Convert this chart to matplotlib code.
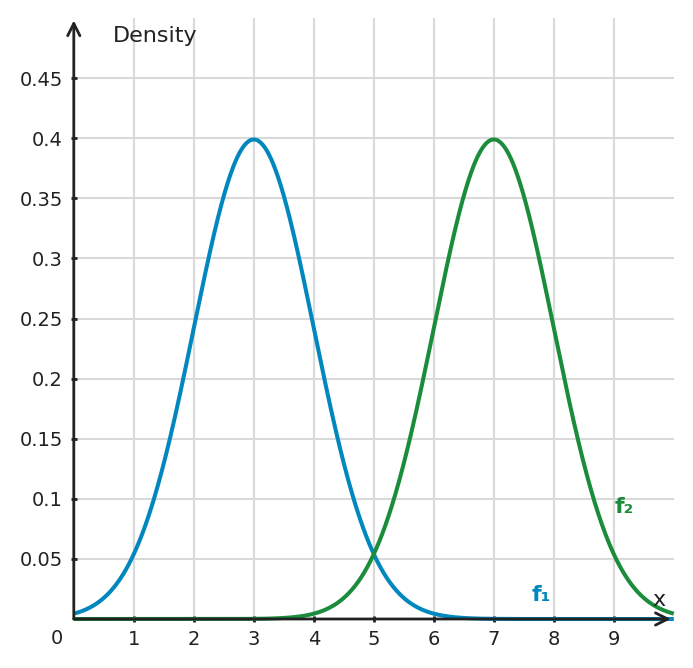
import matplotlib.pyplot as plt
import numpy as np

# two normal densities: parameters
means = [3, 7]
sigmas = [1, 1]
names = ["f\u2081", "f\u2082"]
colors = ["#0087be", "#1b8c3c"]
label_pos = [(7.8, 0.02), (9.18, 0.093)]

x_ticks = [1, 2, 3, 4, 5, 6, 7, 8, 9]
y_ticks = [0.05, 0.1, 0.15, 0.2, 0.25, 0.3, 0.35, 0.4, 0.45]
y_labels = ["0.05", "0.1", "0.15", "0.2", "0.25", "0.3", "0.35", "0.4", "0.45"]

fig = plt.figure(figsize=(6.93, 6.68), dpi=100)
ax = fig.add_axes([73.8 / 693, 49 / 668, 600 / 693, 601 / 668])

xs = np.linspace(0, 10, 600)
for mu, sd, col, name, pos in zip(means, sigmas, colors, names, label_pos):
    ys = np.exp(-0.5 * ((xs - mu) / sd) ** 2) / (sd * np.sqrt(2 * np.pi))
    ax.plot(xs, ys, color=col, lw=2.9, solid_capstyle="butt", zorder=3, clip_on=False)
    ax.text(pos[0], pos[1], name, color=col, fontsize=16, fontweight="bold",
            ha="center", va="center")

ax.set_xlim(0, 10)
ax.set_ylim(0, 0.5)
ax.set_xticks(x_ticks)
ax.set_yticks(y_ticks)
ax.set_yticklabels(y_labels)
ax.grid(True, color="#d9d9d9", lw=1.5)
ax.set_axisbelow(True)
for s in ax.spines.values():
    s.set_visible(False)
ax.tick_params(axis="both", length=4, width=2, color="#222222", direction="inout",
               labelsize=14, labelcolor="#222222", pad=6)

# axis arrows
ax.annotate("", xy=(9.95, 0), xytext=(0, 0),
            arrowprops=dict(arrowstyle="->", color="#222222", lw=2,
                            mutation_scale=22, shrinkA=0, shrinkB=0),
            annotation_clip=False, zorder=4)
ax.annotate("", xy=(0, 0.498), xytext=(0, 0),
            arrowprops=dict(arrowstyle="->", color="#222222", lw=2,
                            mutation_scale=22, shrinkA=0, shrinkB=0),
            annotation_clip=False, zorder=4)

ax.text(0.65, 0.485, "Density", fontsize=16, color="#222222", va="center")
ax.text(9.75, 0.016, "x", fontsize=16, color="#222222", ha="center", va="center")
ax.text(-0.28, -0.016, "0", fontsize=14, color="#222222", ha="center", va="center")

fig.savefig("out.png", dpi=100)
